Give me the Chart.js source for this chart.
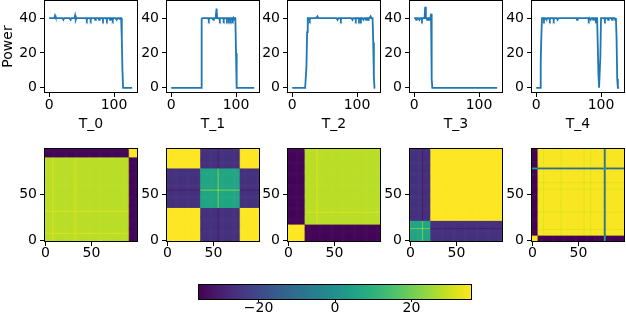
<!DOCTYPE html>
<html><head><meta charset="utf-8">
<script src="https://cdn.jsdelivr.net/npm/chart.js@4/dist/chart.umd.min.js"></script>
<style>
html,body{margin:0;padding:0;background:#fff;width:626px;height:318px;overflow:hidden;position:relative}
</style></head><body>
<script>
// ---------------- DATA ----------------
const seriesLabels = ['T_0', 'T_1', 'T_2', 'T_3', 'T_4'];
const yLabel = 'Power';
const lineXTicks = [0, 100];
const lineYTicks = [0, 20, 40];
const heatTicks = [0, 50];
const cbTicks = [-20, 0, 20];
const cbRange = [-35.6, 35.6];
const heatSize = 100;

const T0 = [40,40,40,40,40,40,40,40,40,41.5,
 40.5,40,40,40,40,40,40,40,40,40,
 40,40,39,40,40,40,40,40,40,40,
 40,40,40,39,40,40,40,40,40,40,
 41.5,39,40,40,40,40,40,40,40,40,
 40,40,40,40,40,40,40,40,39,40,
 40,40,40,40,39,40,40,40,40,40,
 40,39,40,40,40,40,40,39,40,40,
 40,40,40,39,40,40,40,40,40,39,
 40,40,40,40,39,40,40,40,39,40,
 40,40,40,40,39,40,40,40,39.5,40,
 40,40,28,10,0,0,0,0,0,0,
 0,0,0,0,0,0,0,0,0,0];
const T1 = [0,0,0,0,0,0,0,0,0,0,
 0,0,0,0,0,0,0,0,0,0,
 0,0,0,0,0,0,0,0,0,0,
 0,0,0,0,0,0,0,0,0,0,
 0,0,0,0,0,0,0,39.5,40,40,
 40,40,40,40,40,40,40,40,39,40,
 40,40,40,40,40,39,40,40,40,42,
 45.5,40,40,40,40,39,40,40,40,40,
 40,39,40,40,40,40,39,40,40,39,
 40,40,39,40,40,39,40,39,40,40,
 20,0,0,0,0,0,0,0,0,0,
 0,0,0,0,0,0,0,0,0,0,
 0,0,0,0,0,0,0,0,0,0];
const T2 = [0,0,0,0,0,0,0,0,0,0,
 0,0,0,0,0,0,0,0,0,0,
 0,0,12,32,40,40,40,39,40,40,
 40,40,40,40,40,40,40,40,40,41,
 40,40,40,40,40,40,40,40,40,40,
 40,40,40,40,40,40,40,40,40,40,
 40,40,40,40,40,40,40,40,40,40,
 39,40,40,40,40,39,40,40,40,40,
 40,40,40,40,40,40,40,40,40,40,
 40,40,40,39,40,40,40,40,39,40,
 40,40,40,39,40,40,39,40,40,40,
 39,40,40,40,39,40,40,39,40,40,
 40,41,40,40,40,26,6,0,0,0];
const T3 = [40,40,40,39,40,40,40,40,39,40,
 40,40,39,40,40,40,40,46.5,40,40,
 39,40,40,39,40,40,42.5,5,0,0,
 0,0,0,0,0,0,0,0,0,0,
 0,0,0,0,0,0,0,0,0,0,
 0,0,0,0,0,0,0,0,0,0,
 0,0,0,0,0,0,0,0,0,0,
 0,0,0,0,0,0,0,0,0,0,
 0,0,0,0,0,0,0,0,0,0,
 0,0,0,0,0,0,0,0,0,0,
 0,0,0,0,0,0,0,0,0,0,
 0,0,0,0,0,0,0,0,0,0,
 0,0,0,0,0,0,0,0,0,0];
const T4 = [0,0,0,0,0,0,0,15,30,40,
 40,40,39,40,40,40,39,40,40,40,
 40,39,40,40,40,40,40,39,40,40,
 40,40,40,39,40,40,40,40,40,40,
 40,40,40,40,40,40,40,40,40,40,
 40,40,40,40,40,40,40,40,40,40,
 40,40,40,39,40,40,40,40,40,40,
 40,40,40,40,40,40,40,40,40,40,
 40,39,40,40,39,40,40,40,39,40,
 40,40,39,40,40,40,8,0,0,18,
 40,40,40,40,40,40,39,40,40,40,
 40,39,40,40,40,40,40,39,40,40,
 40,40,39,40,28,5,0,0,0,0];
const powerSeries = [T0, T1, T2, T3, T4];

// heatmaps: runs of states [startIndex, state] and block values for state pairs
const hm0Runs = [[0,'A'],[8,'S'],[9,'A'],[32,'S'],[33,'A'],[91,'B']];
const hm0Pairs = {AA:28, AS:32, SS:34, AB:-34.5, SB:-34, BB:35.6};
const hm1Runs = [[0,'B'],[36,'A'],[55,'S'],[56,'A'],[79,'B']];
const hm1Pairs = {BB:35.6, AA:6.5, AS:22, SS:35, AB:-25.5, SB:-31};
const hm2Runs = [[0,'B'],[18,'A'],[31,'S'],[32,'A']];
const hm2Pairs = {BB:35.6, AA:28, AS:32.5, SS:35, AB:-34.5, SB:-35};
const hm3Runs = [[0,'A'],[13,'S'],[14,'A'],[22,'B']];
const hm3Pairs = {BB:35.6, AA:6.5, AS:21, SS:35, AB:-25.5, SB:-31};
const hm4Runs = [[0,'B'],[6,'A'],[12,'F'],[13,'A'],[31,'F'],[32,'A'],[56,'F'],[57,'A'],[63,'F'],[64,'A'],[78,'D'],[80,'A']];
const hm4Pairs = {BB:35.6, AA:35, AF:32, FF:30, AB:-35, FB:-35, AD:-10, DF:-10, DD:10, BD:6};
const heatRuns = [hm0Runs, hm1Runs, hm2Runs, hm3Runs, hm4Runs];
const heatPairs = [hm0Pairs, hm1Pairs, hm2Pairs, hm3Pairs, hm4Pairs];

// ---------------- STYLE / LAYOUT ----------------
const plotLefts = [45, 167, 288, 410, 532];
const PW = 92;
const FONT = {family: '"DejaVu Sans", sans-serif', size: 14, lineHeight: 1.2};
const XFONT = {family: '"DejaVu Sans", sans-serif', size: 14, lineHeight: 1.0};
Chart.defaults.color = '#000';
Chart.defaults.font = Object.assign({}, FONT);

const VIR = [[68,1,84],[72,24,106],[71,45,123],[66,64,134],[59,82,139],[51,99,141],[44,114,142],[38,130,142],[33,145,140],[31,160,136],[40,174,128],[63,188,115],[94,201,98],[132,212,75],[173,220,48],[216,226,25],[253,231,37]];
function viridis(t){
  t = Math.max(0, Math.min(1, t));
  const f = t*16, i = Math.min(15, Math.floor(f)), r = f - i;
  const a = VIR[i], b = VIR[i+1];
  return 'rgb(' + [0,1,2].map(k => Math.round(a[k] + (b[k]-a[k])*r)).join(',') + ')';
}
function valColor(v){ return viridis((v - cbRange[0]) / (cbRange[1] - cbRange[0])); }
const fmt = v => (v < 0 ? '\u2212' : '') + Math.abs(v);

function makeCanvas(left, top, w, h){
  const c = document.createElement('canvas');
  c.width = w; c.height = h;
  c.style.cssText = 'position:absolute;left:'+left+'px;top:'+top+'px;width:'+w+'px;height:'+h+'px';
  document.body.appendChild(c);
  return c;
}
const framePlugin = {id:'frame', afterDraw(chart){
  const a = chart.chartArea, ctx = chart.ctx;
  ctx.save(); ctx.strokeStyle = '#000'; ctx.lineWidth = 1;
  ctx.strokeRect(a.left - 0.5, a.top - 0.5, a.right - a.left + 1, a.bottom - a.top + 1);
  ctx.restore();
}};
function mkAxis(min, max, tickVals, extra, tl, pad, font){
  return Object.assign({
    type: 'linear', min: min, max: max,
    afterBuildTicks: s => { s.ticks = tickVals.map(v => ({value: v})); },
    grid: {display: true, drawOnChartArea: false, drawTicks: true, tickLength: tl, color: '#000', lineWidth: 1},
    border: {display: false},
    ticks: {padding: pad, color: '#000', font: font || FONT, autoSkip: false, maxRotation: 0, callback: fmt}
  }, extra);
}

// ---------------- LINE PLOTS ----------------
powerSeries.forEach((series, k) => {
  const L = plotLefts[k];
  const cv = makeCanvas(L - 45, -15, 45 + PW + 22, 16 + 91 + 46);
  new Chart(cv, {
    type: 'line',
    data: {datasets: [{data: series.map((v, i) => ({x: i, y: v})), borderColor: '#1f77b4', borderWidth: 1.8,
      pointRadius: 0, tension: 0, fill: false}]},
    options: {
      responsive: false, animation: false, devicePixelRatio: 1,
      layout: {padding: {top: 16, right: 22, left: 0, bottom: 0}},
      plugins: {legend: {display: false}, tooltip: {enabled: false}},
      scales: {
        x: mkAxis(-6.45, 135.45, lineXTicks, {afterFit: s => { s.height = 46; },
          title: {display: true, text: seriesLabels[k], color: '#000', font: FONT, padding: {top: 0, bottom: 5}}}, 5, 1.5, XFONT),
        y: mkAxis(-2.4, 49.8, lineYTicks, {afterFit: s => { s.width = 45; },
          title: {display: k === 0, text: yLabel, color: '#000', font: FONT, padding: {top: 0, bottom: 0}}}, 5, 3)
      }
    },
    plugins: [framePlugin]
  });
});

// ---------------- HEATMAPS ----------------
const heatPlugin = {id: 'heat', beforeDatasetsDraw(chart){
  const ctx = chart.ctx, xs = chart.scales.x, ys = chart.scales.y, a = chart.chartArea;
  ctx.save();
  ctx.beginPath(); ctx.rect(a.left, a.top, a.right - a.left, a.bottom - a.top); ctx.clip();
  chart.data.datasets[0].data.forEach(c => {
    const x0 = xs.getPixelForValue(c.x - 0.5), x1 = xs.getPixelForValue(c.x + 0.5);
    const y0 = ys.getPixelForValue(c.y + 0.5), y1 = ys.getPixelForValue(c.y - 0.5);
    ctx.fillStyle = valColor(c.v);
    ctx.fillRect(x0, y0 - 0.6, x1 - x0 + 0.6, y1 - y0 + 0.6);
  });
  ctx.restore();
}};
function statesFromRuns(runs){
  const st = [];
  for (let i = 0; i < heatSize; i++){
    let s = runs[0][1];
    runs.forEach(r => { if (i >= r[0]) s = r[1]; });
    st.push(s);
  }
  return st;
}
heatRuns.forEach((runs, k) => {
  const st = statesFromRuns(runs), pairs = heatPairs[k];
  const cells = [];
  for (let j = 0; j < heatSize; j++){
    for (let i = 0; i < heatSize; i++){
      const v = pairs[st[i] + st[j]] !== undefined ? pairs[st[i] + st[j]] : pairs[st[j] + st[i]];
      cells.push({x: i, y: j, v: v});
    }
  }
  const L = plotLefts[k];
  const cv = makeCanvas(L - 45, 149 - 16, 45 + PW + 22, 16 + 92 + 35);
  new Chart(cv, {
    type: 'scatter',
    data: {datasets: [{data: cells, pointRadius: 0, pointHoverRadius: 0, showLine: false}]},
    options: {
      responsive: false, animation: false, devicePixelRatio: 1, parsing: false,
      layout: {padding: {top: 16, right: 22, left: 0, bottom: 0}},
      plugins: {legend: {display: false}, tooltip: {enabled: false}},
      scales: {
        x: mkAxis(-0.5, heatSize - 0.5, heatTicks, {afterFit: s => { s.height = 35; }}, 5, 0.5, XFONT),
        y: mkAxis(-0.5, heatSize - 0.5, heatTicks, {afterFit: s => { s.width = 45; }}, 5, 3)
      }
    },
    plugins: [heatPlugin, framePlugin]
  });
});

// ---------------- COLORBAR ----------------
const cbPlugin = {id: 'cb', beforeDatasetsDraw(chart){
  const ctx = chart.ctx, xs = chart.scales.x, a = chart.chartArea;
  const p0 = xs.getPixelForValue(cbRange[0]), p1 = xs.getPixelForValue(cbRange[1]);
  const g = ctx.createLinearGradient(p0, 0, p1, 0);
  for (let i = 0; i <= 16; i++) g.addColorStop(i/16, 'rgb(' + VIR[i].join(',') + ')');
  ctx.save(); ctx.fillStyle = g; ctx.fillRect(p0, a.top, p1 - p0, a.bottom - a.top); ctx.restore();
}};
{
  const cv = makeCanvas(199 - 20, 285 - 20, 20 + 272 + 20, 20 + 14 + 25);
  new Chart(cv, {
    type: 'scatter',
    data: {datasets: [{data: [], pointRadius: 0}]},
    options: {
      responsive: false, animation: false, devicePixelRatio: 1,
      layout: {padding: {top: 20, right: 20, left: 20, bottom: 0}},
      plugins: {legend: {display: false}, tooltip: {enabled: false}},
      scales: {
        x: mkAxis(cbRange[0], cbRange[1], cbTicks, {afterFit: s => { s.height = 25; }}, 3, -1, XFONT),
        y: {type: 'linear', min: 0, max: 1, display: false}
      }
    },
    plugins: [cbPlugin, framePlugin]
  });
}
</script>
</body></html>
